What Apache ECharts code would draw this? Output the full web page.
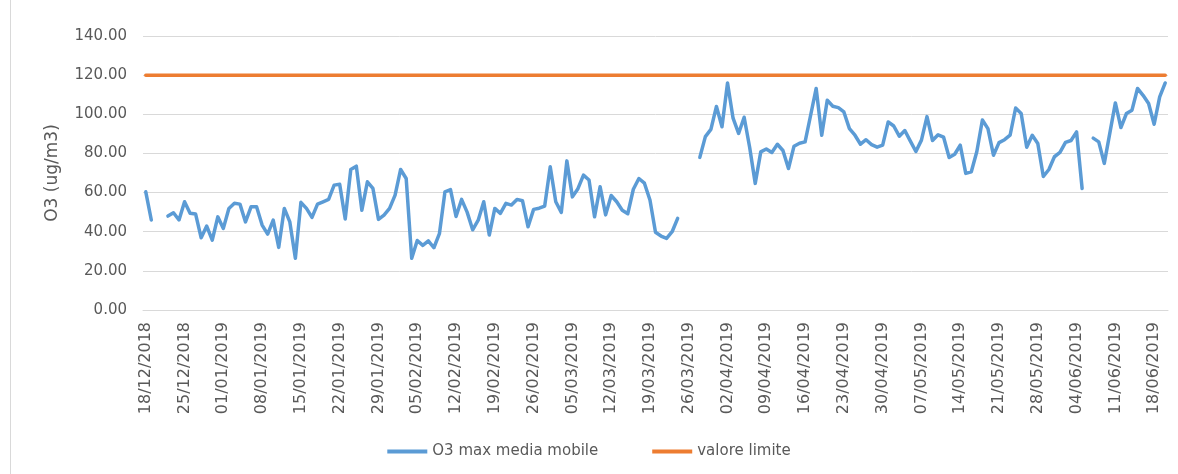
<!DOCTYPE html>
<html>
<head>
<meta charset="utf-8">
<title>O3 max media mobile</title>
<script src="https://cdn.jsdelivr.net/npm/echarts@6.0.0/dist/echarts.min.js"></script>
<style>
  html, body { margin: 0; padding: 0; background: #fff; }
  #chart { width: 1178px; height: 474px; }
</style>
</head>
<body>
<div id="chart"></div>
<script>
// giorni dal 18/12/2018 al 20/06/2019
var startDate = new Date(2018, 11, 18);
var dayCount = 185;

// O3 max media mobile (ug/m3), null = dato mancante
var o3Values = [
  60.4, 46, null, null, 48, 49.7, 46, 55.3, 49.4, 49,
  36.9, 42.9, 35.7, 47.6, 41.7, 51.9, 54.5, 54.1, 45, 52.7,
  52.7, 43.4, 38.8, 45.9, 32, 51.9, 45, 26.4, 55, 51.9,
  47.3, 54.1, 55.3, 56.5, 63.8, 64.2, 46.5, 71.8, 73.5, 51,
  65.5, 62.1, 46.3, 48.5, 51.9, 58.7, 71.8, 67.2, 26.4, 35.5,
  33, 35.3, 31.8, 39, 60.4, 61.5, 47.8, 56.5, 50, 41,
  45.9, 55.3, 38.3, 51.9, 49.4, 54.5, 53.6, 56.5, 55.8, 42.5,
  51.4, 52, 53.1, 73.2, 55.3, 49.9, 76.2, 57.8, 62, 68.9,
  66.4, 47.6, 63, 48.6, 58.5, 55.3, 51, 49.2, 61.7, 67.2,
  64.8, 56.2, 39.7, 37.8, 36.6, 40, 46.8, null, null, null,
  78, 88.6, 92.3, 104, 93.6, 116, 98, 90.2, 98.5, 83,
  64.7, 80.8, 82.3, 80.5, 84.7, 81.5, 72.3, 83.7, 85.2, 85.9,
  99.5, 113.2, 89.3, 107.2, 104.1, 103.4, 101.2, 92.7, 89.3, 84.7,
  87, 84.5, 83.2, 84.2, 96.1, 94, 88.8, 91.7, 86.3, 81,
  86.8, 98.8, 86.6, 89.5, 88.3, 77.9, 79.6, 84.2, 69.8, 70.6,
  81, 97.1, 92.7, 79.1, 85.5, 87, 89.3, 103.2, 100.4, 83.2,
  89.3, 85.1, 68.2, 71.8, 78.3, 80.5, 85.6, 86.6, 91, 62.1,
  null, 87.8, 85.9, 74.9, 90.4, 105.8, 93.2, 100.4, 102.1, 113.2,
  109.7, 105.5, 94.9, 108.9, 116
];

// valore limite
var limitValue = 120;

var yTicks = { min: 0, max: 140, interval: 20 };

function pad(n) { return (n < 10 ? '0' : '') + n; }

var days = [];
for (var i = 0; i < dayCount; i++) {
  var d = new Date(startDate.getFullYear(), startDate.getMonth(), startDate.getDate() + i);
  days.push(pad(d.getDate()) + '/' + pad(d.getMonth() + 1) + '/' + d.getFullYear());
}
var limitLine = days.map(function () { return limitValue; });

var chart = echarts.init(document.getElementById('chart'));

chart.setOption({
  animation: false,
  graphic: [{
    type: 'rect',
    shape: { x: 10.5, y: -2, width: 1180, height: 490 },
    style: { fill: 'none', stroke: '#d9d9d9', lineWidth: 1 },
    silent: true
  }],
  grid: { left: 143, right: 10, top: 36, bottom: 164 },
  legend: {
    left: 'center',
    top: 439,
    icon: 'rect',
    itemWidth: 40,
    itemHeight: 4,
    itemGap: 54,
    textStyle: { color: '#595959', fontFamily: 'DejaVu Sans', fontSize: 15 },
    data: ['O3 max media mobile', 'valore limite']
  },
  xAxis: {
    type: 'category',
    data: days,
    boundaryGap: true,
    axisLine: { lineStyle: { color: '#d9d9d9' } },
    axisTick: { interval: 6, length: 5, lineStyle: { color: '#d9d9d9' } },
    axisLabel: { interval: 6, rotate: 90, margin: 12, color: '#595959', fontFamily: 'DejaVu Sans', fontSize: 16 },
    splitLine: { show: false }
  },
  yAxis: {
    type: 'value',
    min: yTicks.min,
    max: yTicks.max,
    interval: yTicks.interval,
    name: 'O3 (ug/m3)',
    nameLocation: 'middle',
    nameGap: 82,
    nameTextStyle: { color: '#595959', fontFamily: 'DejaVu Sans', fontSize: 17 },
    axisLine: { show: false },
    axisTick: { show: false },
    axisLabel: {
      margin: 16, color: '#595959', fontFamily: 'DejaVu Sans', fontSize: 15,
      formatter: function (v) { return v.toFixed(2); }
    },
    splitLine: { lineStyle: { color: '#d9d9d9', width: 1 } }
  },
  series: [
    {
      name: 'O3 max media mobile',
      type: 'line',
      data: o3Values,
      symbol: 'none',
      connectNulls: false,
      color: '#5B9BD5',
      lineStyle: { width: 3.5, color: '#5B9BD5', cap: 'round', join: 'round' }
    },
    {
      name: 'valore limite',
      type: 'line',
      data: limitLine,
      symbol: 'none',
      color: '#ED7D31',
      lineStyle: { width: 3.5, color: '#ED7D31', cap: 'round' }
    }
  ]
});
</script>
</body>
</html>
